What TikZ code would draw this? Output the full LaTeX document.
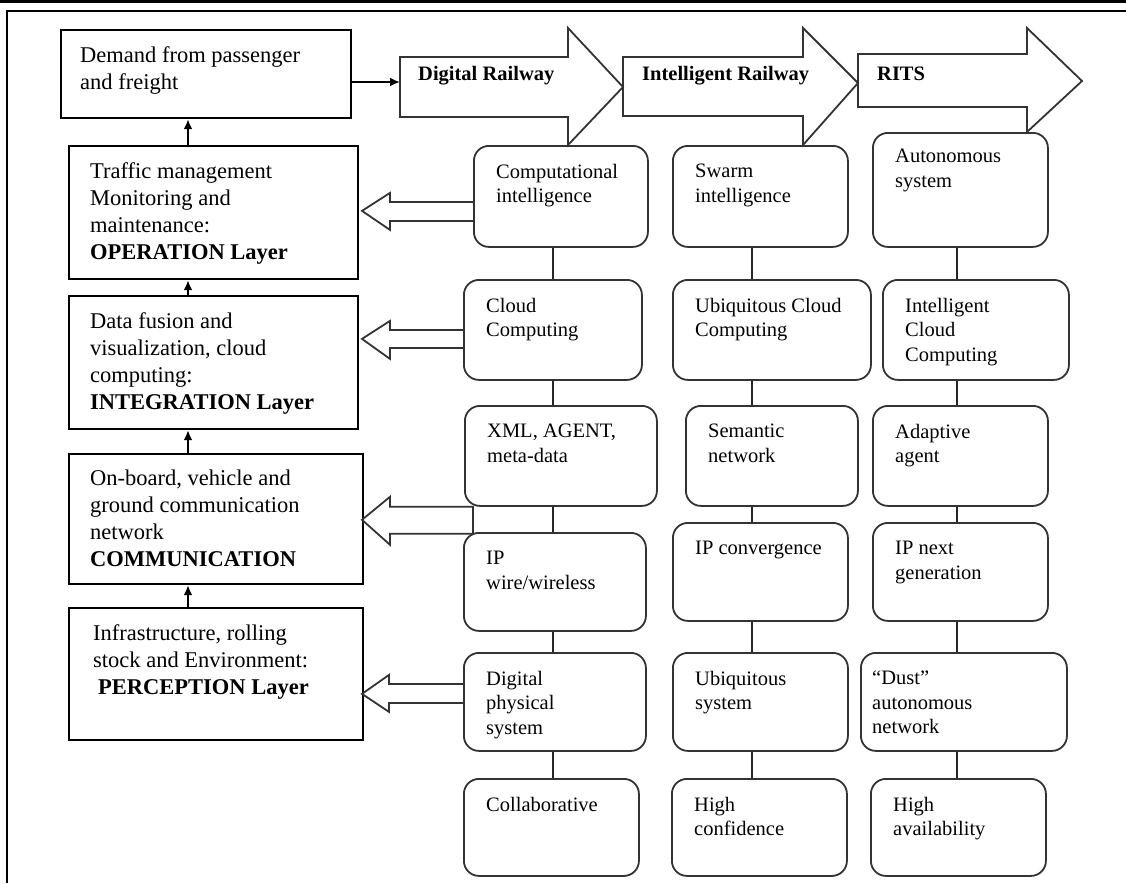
\documentclass[tikz,border=0pt]{standalone}
\usepackage{fontspec}
\setmainfont{Liberation Serif}
\usetikzlibrary{positioning}
\usetikzlibrary{calc}
\usetikzlibrary{arrows.meta}
\tikzstyle{line} = [draw, line width=2pt, -{Latex[length=10pt,width=9pt]}]

\begin{document}
\begin{tikzpicture}[x=1pt, y=-1pt]

\tikzstyle{LayerBlok} = [rectangle, draw, line width=2.2pt, anchor=north west, inner sep=0pt]
\tikzstyle{TechBlok} = [rectangle, draw=black!80, line width=1.8pt, rounded corners=15pt, anchor=north west, inner sep=0pt]
\tikzstyle{layertext} = [anchor=north west, inner sep=0pt, xshift=22pt, yshift=-17pt, align=left, font=\fontsize{22.5}{27}\selectfont]
\tikzstyle{techtext} = [anchor=north west, inner sep=0pt, xshift=23pt, yshift=-19pt, align=left, font=\fontsize{20.5}{24.5}\selectfont]
\tikzstyle{stagetext} = [anchor=west, inner sep=0pt, font=\fontsize{20.5}{24}\selectfont\bfseries]
\tikzstyle{stage} = [draw=black!80, line width=1.8pt]
\tikzstyle{hollow} = [draw=black!80, line width=1.8pt]
\tikzstyle{link} = [draw=black!85, line width=1.8pt]

\useasboundingbox (0,0) rectangle (1126,883);

% frame
\draw[line width=3.5pt] (0,1.75) -- (1126,1.75);
\draw[line width=2pt] (7,883) -- (7,11) -- (1126,11);

% Place nodes
\node [LayerBlok, minimum width=290, minimum height=88, label={[layertext, xshift=-2pt]north west:{Demand from passenger\\and freight}}] (dem) at (60,29) {};
\node [LayerBlok, minimum width=289, minimum height=133, label={[layertext]north west:{Traffic management\\Monitoring and\\maintenance:\\\textbf{OPERATION Layer}}}] (op) at (68,145) {};
\node [LayerBlok, minimum width=289, minimum height=133, label={[layertext]north west:{Data fusion and\\visualization, cloud\\computing:\\\textbf{INTEGRATION Layer}}}] (integ) at (68,295) {};
\node [LayerBlok, minimum width=294, minimum height=130, label={[layertext]north west:{On-board, vehicle and\\ground communication\\network\\\textbf{COMMUNICATION}}}] (comm) at (68,453) {};
\node [LayerBlok, minimum width=294, minimum height=132, label={[layertext, xshift=3pt]north west:{Infrastructure, rolling\\stock and Environment:\\\hspace*{5pt}\textbf{PERCEPTION Layer}}}] (perc) at (68,607) {};

% digital railway
\node [TechBlok, minimum width=174, minimum height=101, label={[techtext]north west:{Computational\\intelligence}}] (c1) at (473,145) {};
\node [TechBlok, minimum width=178, minimum height=100, label={[techtext]north west:{Cloud\\Computing}}] (c2) at (463,279) {};
\node [TechBlok, minimum width=192, minimum height=100, label={[techtext]north west:{XML, AGENT,\\meta-data}}] (xml) at (464,405) {};
\node [TechBlok, minimum width=182, minimum height=98, label={[techtext]north west:{IP\\wire/wireless}}] (a4) at (463,532) {};
\node [TechBlok, minimum width=182, minimum height=98, label={[techtext]north west:{Digital\\physical\\system}}] (a5) at (463,652) {};
\node [TechBlok, minimum width=175, minimum height=97, label={[techtext]north west:{Collaborative}}] (a6) at (463,778) {};

% intelligent railway
\node [TechBlok, minimum width=175, minimum height=101, label={[techtext]north west:{Swarm\\intelligence}}] (s1) at (672,145) {};
\node [TechBlok, minimum width=198, minimum height=100, label={[techtext]north west:{Ubiquitous Cloud\\Computing}}] (s2) at (672,279) {};
\node [TechBlok, minimum width=172, minimum height=100, label={[techtext]north west:{Semantic\\network}}] (s3) at (685,405) {};
\node [TechBlok, minimum width=175, minimum height=98, label={[techtext]north west:{IP convergence}}] (s4) at (672,522) {};
\node [TechBlok, minimum width=175, minimum height=98, label={[techtext]north west:{Ubiquitous\\system}}] (s5) at (672,652) {};
\node [TechBlok, minimum width=175, minimum height=97, label={[techtext]north west:{High\\confidence}}] (s6) at (671,778) {};

% RITS
\node [TechBlok, minimum width=175, minimum height=114, label={[techtext, yshift=2pt]north west:{Autonomous\\system}}] (r1) at (872,132) {};
\node [TechBlok, minimum width=186, minimum height=100, label={[techtext]north west:{Intelligent\\Cloud\\Computing}}] (r2) at (882,279) {};
\node [TechBlok, minimum width=175, minimum height=100, label={[techtext]north west:{Adaptive\\agent}}] (r3) at (872,405) {};
\node [TechBlok, minimum width=175, minimum height=98, label={[techtext]north west:{IP next\\generation}}] (r4) at (872,522) {};
\node [TechBlok, minimum width=206, minimum height=98, label={[techtext, xshift=-11pt]north west:{“Dust”\\autonomous\\network}}] (r5) at (860,652) {};
\node [TechBlok, minimum width=175, minimum height=97, label={[techtext]north west:{High\\availability}}] (r6) at (870,778) {};

% stage arrows
\draw[stage] (400,57) -- (568,57) -- (568,28) -- (623,87) -- (568,145) -- (568,117) -- (400,117) -- cycle;
\draw[stage] (623,57) -- (803,57) -- (803,28) -- (858,83) -- (803,145) -- (803,116) -- (623,116) -- cycle;
\draw[stage] (858,54) -- (1027,54) -- (1027,28) -- (1082,81) -- (1027,132) -- (1027,107) -- (858,107) -- cycle;
\node [stagetext] (digital) at (418,76) {Digital Railway};
\node [stagetext] (intel) at (642,76) {Intelligent Railway};
\node [stagetext] (rits) at (877,74) {RITS};

\coordinate (drtail) at (400,82);
\coordinate (upx) at (188,0);
\coordinate (colA) at (553,0);
\coordinate (colB) at (752,0);
\coordinate (colC) at (957,0);

\path [line] (dem.east |- drtail) -- (drtail);
\path [line] (op.north -| upx) -- (dem.south -| upx);
\path [line] (integ.north -| upx) -- (op.south -| upx);
\path [line] (comm.north -| upx) -- (integ.south -| upx);
\path [line] (perc.north -| upx) -- (comm.south -| upx);

\path [link] (c1.south -| colA) -- (c2.north -| colA);
\path [link] (c2.south -| colA) -- (xml.north -| colA);
\path [link] (xml.south -| colA) -- (a4.north -| colA);
\path [link] (a4.south -| colA) -- (a5.north -| colA);
\path [link] (a5.south -| colA) -- (a6.north -| colA);
\path [link] (s1.south -| colB) -- (s2.north -| colB);
\path [link] (s2.south -| colB) -- (s3.north -| colB);
\path [link] (s3.south -| colB) -- (s4.north -| colB);
\path [link] (s4.south -| colB) -- (s5.north -| colB);
\path [link] (s5.south -| colB) -- (s6.north -| colB);
\path [link] (r1.south -| colC) -- (r2.north -| colC);
\path [link] (r2.south -| colC) -- (r3.north -| colC);
\path [link] (r3.south -| colC) -- (r4.north -| colC);
\path [link] (r4.south -| colC) -- (r5.north -| colC);
\path [link] (r5.south -| colC) -- (r6.north -| colC);

% hollow arrows to the layers
\path [hollow] ($(c1.west)+(0,5.5)$) -- ++(-83,0) -- ++(0,-9) -- ++(-28,18) -- ++(28,19) -- ++(0,-9) -- ++(83,0);
\path [hollow] ($(c2.west)+(0,0)$) -- ++(-73,0) -- ++(0,-9) -- ++(-28,18) -- ++(28,20) -- ++(0,-11) -- ++(73,0);
\path [hollow] ($(xml.south west)+(9,0)$) -- ++(-83,0) -- ++(0,-10) -- ++(-28,23) -- ++(28,25) -- ++(0,-11) -- ++(83,0) -- cycle;
\path [hollow] ($(a5.west)+(0,-18)$) -- ++(-74,0) -- ++(0,-9) -- ++(-27,19) -- ++(27,18) -- ++(0,-9) -- ++(74,0);

\end{tikzpicture}
\end{document}
